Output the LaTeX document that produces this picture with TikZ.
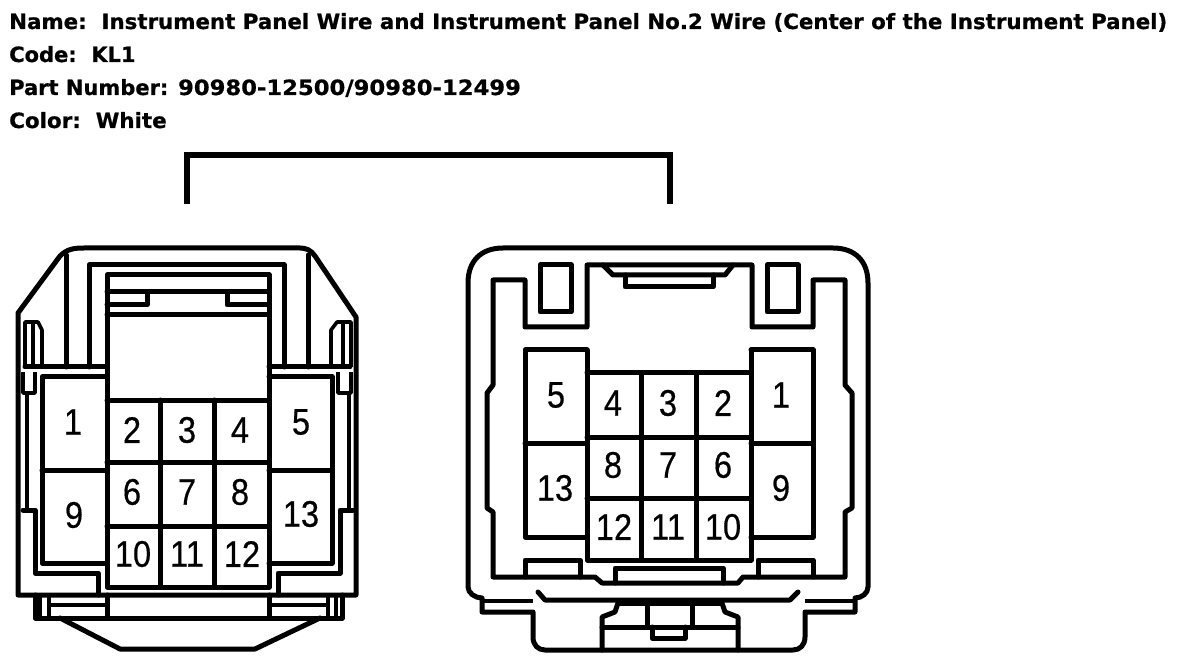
\documentclass[tikz,border=0pt]{standalone}
\usepackage{fontspec}
\setmainfont[BoldFeatures={FakeBold=0.7}]{DejaVu Sans}
\newfontfamily\pinfont[FakeBold=0.5]{Liberation Sans}
\tikzset{
  ln/.style={line width=5pt,line join=round,line cap=round},
  th/.style={line width=3.6pt,line join=round,line cap=butt},
  hd/.style={anchor=base west,inner sep=0pt,font=\fontsize{21}{24}\selectfont\bfseries},
  pin/.style={inner sep=0pt,font=\fontsize{37}{40}\pinfont,xscale=.88,transform shape}
}
\begin{document}
\begin{tikzpicture}[x=1pt,y=-1pt]
\useasboundingbox (0,0) rectangle (1200,668);
\fill[white] (0,0) rectangle (1200,668);
% header
\node[hd] (t1) at (9,29) {\scalebox{1.016}[1]{Name:\ \ Instrument Panel Wire and Instrument Panel No.2 Wire (Center of the Instrument Panel)}};
\node[hd] (t2) at (9,62) {Code:\ \ KL1};
\node[hd] (t3) at (9,95) {Part Number: \scalebox{1.08}[1]{90980-12500/90980-12499}};
\node[hd] (t4) at (9,128) {\scalebox{1.02}[1]{Color:\ \ White}};
% bracket
\coordinate (bl) at (187,204); \coordinate (br) at (670,204);
\draw[line width=5.5pt,line join=miter] (bl) -- (187,155) -- (670,155) -- (br);
% ---------- left connector ----------
\begin{scope}[ln]
\draw (18,595) -- (18,313) -- (60,256) .. controls (67,249) and (74,248) .. (84,248) -- (300,248) .. controls (306,248) and (311,250) .. (315,256) -- (356,317) -- (356,595) -- cycle;
\draw (66,255) -- (66,367); \draw (308,255) -- (308,367);
\draw (89,367) -- (89,265) -- (284,265) -- (284,367);
\draw (107,587) -- (107,275) -- (269,275) -- (269,587) -- cycle;
\draw (107,292) -- (269,292); \draw (107,315) -- (269,315);
\draw (107,305) -- (147,305) -- (147,292);
\draw (269,305) -- (227,305) -- (227,292);
\draw (25,367) -- (107,367); \draw (269,367) -- (350,367);
\draw (107,400) -- (269,400);
\draw (107,462) -- (269,462); \draw (107,526) -- (269,526);
\draw (160,400) -- (160,587); \draw (214,400) -- (214,587);
\draw (107,377) -- (42,377) -- (42,563) -- (107,563); \draw (42,470) -- (107,470);
\draw (269,377) -- (332,377) -- (332,563) -- (269,563); \draw (269,470) -- (332,470);
% bottom
\draw (35,595) -- (35,618) -- (342,618) -- (342,595);
\draw (107,595) -- (107,618); \draw (269,595) -- (269,618);
\draw (60,618) -- (120,649) -- (255,649) -- (320,618);
% lower side channels
\draw (98,595) -- (98,573) -- (35,573) -- (35,510) -- (23,510);
\draw (278,595) -- (278,573) -- (340,573) -- (340,510) -- (353,510);
\end{scope}
\begin{scope}[th]
\draw (25,367) -- (25,322) -- (38,322) -- (42,330) -- (42,367);
\draw (33,324) -- (33,367);
\draw (351,367) -- (351,322) -- (337,322) -- (331,330) -- (331,367);
\draw (343,324) -- (343,367);
\draw (23,372) -- (23,393) -- (35,393) -- (35,372);
\draw (338,372) -- (338,393) -- (351,393) -- (351,372);
\draw (27,393) -- (27,510); \draw (349,393) -- (349,510);
\draw (40,595) -- (40,618); \draw (49,595) -- (49,618);
\draw (49,605) -- (107,605);
\draw (269,605) -- (328,605);
\draw (328,595) -- (328,618); \draw (336,595) -- (336,618);
\end{scope}
% ---------- right connector ----------
\begin{scope}[ln]
\draw (468,587) -- (468,283) .. controls (468,261) and (481,248) .. (503,248) -- (833,248) .. controls (855,248) and (868,261) .. (868,283) -- (868,587) .. controls (868,593) and (862,598) .. (855,598) -- (855,612) -- (805,612) -- (805,637) .. controls (805,645) and (800,650) .. (793,650) -- (545,650) .. controls (538,650) and (533,645) .. (533,637) -- (533,612) -- (482,612) -- (482,598) .. controls (475,598) and (468,593) .. cycle;
\draw (493,280) -- (525,280) -- (525,327) -- (587,327) -- (587,265) -- (752,265) -- (752,327) -- (813,327) -- (813,280) -- (845,280) -- (845,385) -- (852,393) -- (852,508) -- (845,512) -- (845,577) -- (743,577) -- (738,583) -- (602,583) -- (595,577) -- (493,577) -- (493,512) -- (487,508) -- (487,393) -- (493,385) -- cycle;
\draw (540,265) rectangle (571,312);
\draw (767,265) rectangle (798,312);
\draw (603,265) -- (613,275) -- (725,275) -- (733,265);
\draw (625,275) -- (625,287) -- (713,287) -- (713,275);
\draw (587,350) -- (587,560) -- (751,560) -- (751,350);
\draw (587,373) -- (751,373); \draw (587,437) -- (751,437); \draw (587,498) -- (751,498);
\draw (641,373) -- (641,560); \draw (696,373) -- (696,560);
\draw (587,350) -- (525,350) -- (525,537) -- (587,537); \draw (525,443) -- (587,443);
\draw (751,350) -- (813,350) -- (813,537) -- (751,537); \draw (751,443) -- (813,443);
\draw (525,577) -- (525,560) -- (580,560) -- (580,577);
\draw (758,577) -- (758,560) -- (813,560) -- (813,577);
\draw (615,583) -- (615,568) -- (723,568) -- (723,583);
\draw (538,592) -- (545,600) -- (790,600) -- (798,592);
\draw (618,603) -- (615,612) -- (602,617) -- (602,650);
\draw (722,603) -- (725,612) -- (738,617) -- (738,650);
\draw (602,627) -- (738,627);
\draw (647,605) -- (647,627); \draw (692,605) -- (692,627);
\draw (652,627) -- (652,638) -- (685,638) -- (685,627);
\end{scope}
\begin{scope}[th]
\draw (482,601) -- (533,601); \draw (805,601) -- (855,601);
\draw (618,604) -- (722,604);
\end{scope}
% pin numbers
\foreach \n/\lab/\x/\y in {a1/1/73/422,a9/9/74/515,a2/2/132/430,a3/3/187/430,a4/4/240/430,a5/5/301/422,a6/6/132/492,a7/7/187/492,a8/8/240/492,a10/10/133/554,a11/11/187/554,a12/12/242/554,a13/13/301/514,
 b5/5/556/395,b13/13/555/488,b4/4/613/403,b3/3/668/403,b2/2/723/403,b1/1/781/395,b8/8/613/465,b7/7/668/465,b6/6/723/465,b9/9/781/488,b12/12/614/527,b11/11/668/527,b10/10/723/527}
  \node[pin] (\n) at (\x,\y) {\lab};
\end{tikzpicture}
\end{document}
